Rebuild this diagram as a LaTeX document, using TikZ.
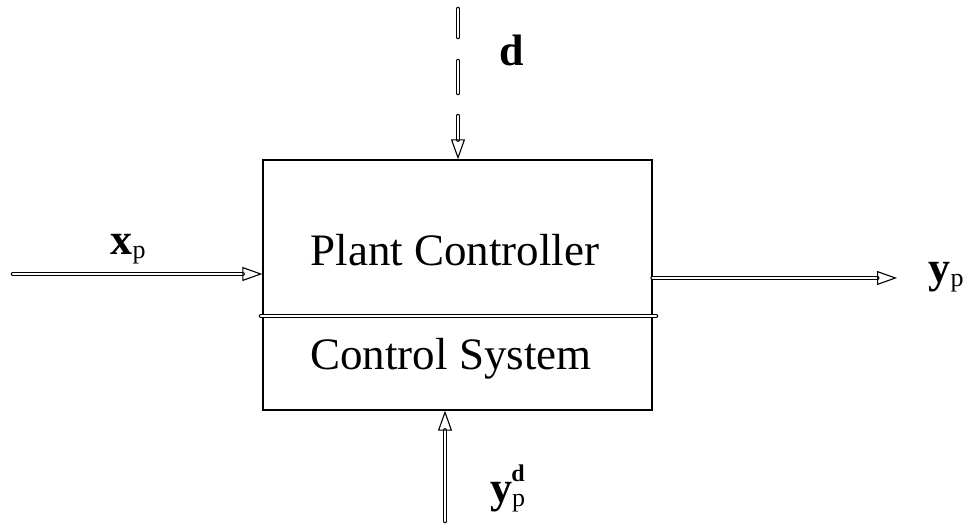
\documentclass[tikz,border=0pt]{standalone}
\usepackage{fontspec}
\setmainfont{Liberation Serif}
\usetikzlibrary{arrows.meta}
\begin{document}
\begin{tikzpicture}[x=1pt, y=-1pt,
    dblline/.style={double, line width=1.1pt, double distance=2.4pt, line cap=round},
    dblarrow/.style={dblline, -{Triangle[open, length=20pt, width=14pt, line width=1.1pt]}},
    lbl/.style={inner sep=0pt, font=\fontsize{44}{48}\selectfont\bfseries}]
    \useasboundingbox (0,0) rectangle (966,527);

    % Block with its two parts
    \node[draw, line width=1.3pt, minimum width=389pt, minimum height=250pt, inner sep=0pt] (box) at (457.5,285) {};
    \node[font=\fontsize{45}{50}\selectfont] (plant) at (455,250) {Plant Controller};
    \node[font=\fontsize{45}{50}\selectfont] (ctrl) at (451,359) {Control System};
    \coordinate (divL) at (261,316);
    \coordinate (divR) at (656,316);
    \draw[dblline] (divL) -- (divR);

    % Signals in and out
    \coordinate (xin) at (13,274);
    \coordinate (yout) at (897,278);
    \coordinate (dtop) at (458,9);
    \coordinate (ydin) at (445,521);
    \draw[dblarrow] (xin) -- (box.west |- xin);
    \draw[dblarrow] (box.east |- yout) -- (yout);
    \draw[dblarrow, dash pattern=on 28pt off 24pt on 32pt off 23pt on 200pt] (dtop) -- (box.north -| dtop);
    \draw[dblarrow] (ydin) -- (box.south -| ydin);

    % Labels
    \node[lbl, anchor=base] (xlab) at (128,254) {x\raisebox{-4pt}{\fontsize{26}{28}\selectfont\mdseries p}};
    \node[lbl, anchor=base] (dlab) at (512,66) {d};
    \node[lbl, anchor=base] (ylab) at (946,282) {y\raisebox{-4pt}{\fontsize{26}{28}\selectfont\mdseries p}};
    \node[lbl, anchor=base west] (ydlab) at (490,502) {y\raisebox{-4pt}{\fontsize{26}{28}\selectfont\mdseries p}};
    \node[inner sep=0pt, anchor=base, font=\fontsize{24}{26}\selectfont\bfseries] (dsup) at (518,481) {d};
\end{tikzpicture}
\end{document}
